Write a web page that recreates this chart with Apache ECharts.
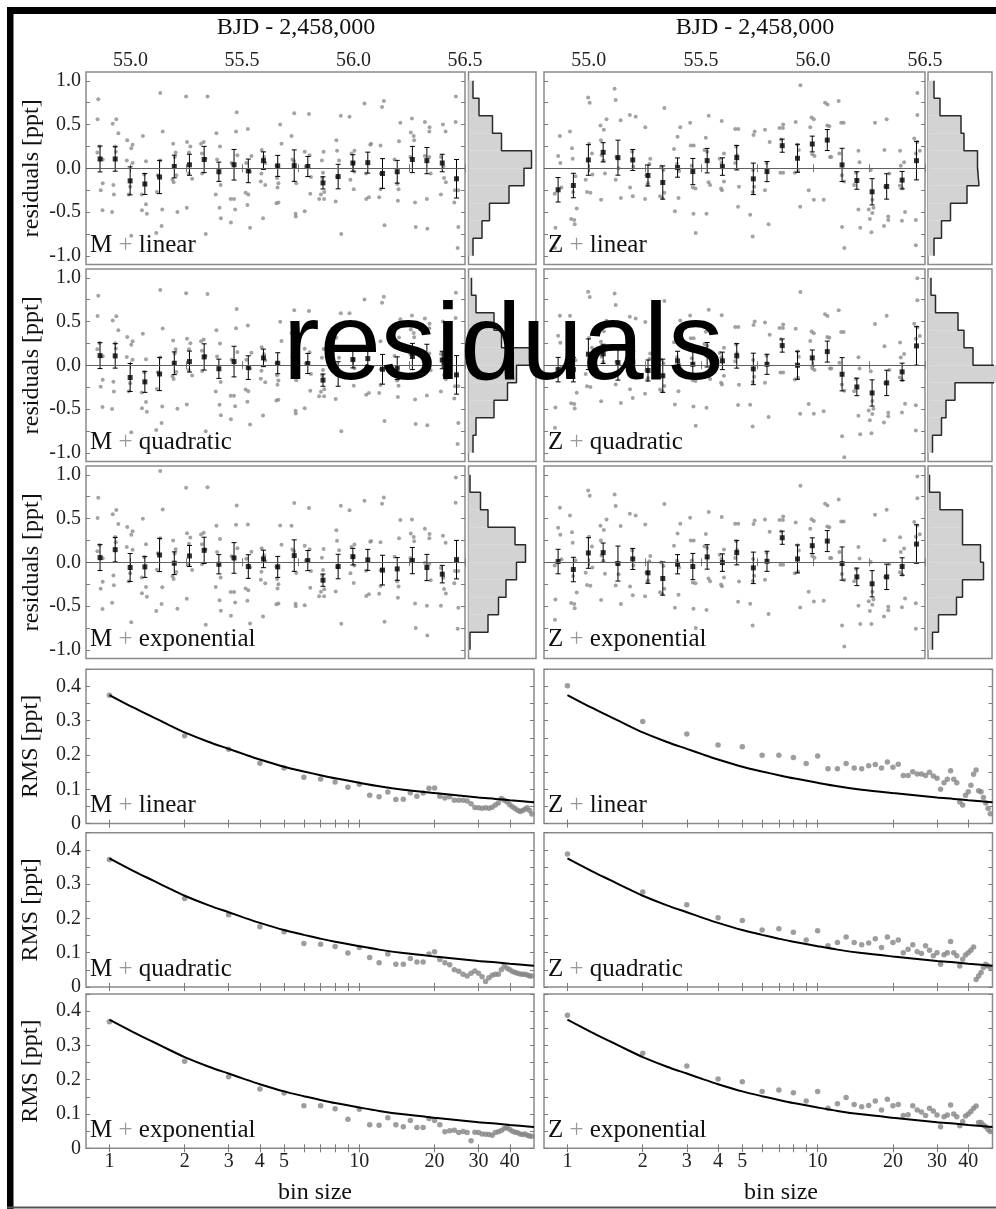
<!DOCTYPE html>
<html>
<head>
<meta charset="UTF-8">
<title>residuals</title>
<script src="https://cdn.jsdelivr.net/npm/echarts@6.0.0/dist/echarts.min.js"></script>
<style>html,body{margin:0;padding:0;background:#fff;}</style>
</head>
<body>
<div id="main" style="width:996px;height:1209px;"></div>
<script>
// ---- data ----
// bin centres (BJD - 2,458,000), same for both columns
var binTime = [54.863, 54.931, 54.998, 55.064, 55.130, 55.196, 55.264, 55.330, 55.396, 55.464, 55.528, 55.596, 55.660,
  55.734, 55.795, 55.863, 55.931, 55.997, 56.064, 56.130, 56.196, 56.264, 56.329, 56.398, 56.462];

// binned residuals [ppt]
var mLinMean = [0.106, 0.106, -0.144, -0.18, -0.10, 0.02, 0.04, 0.10, -0.04, 0.04, -0.03, 0.087, 0.027, 0.03, 0.02, -0.167, -0.095, 0.06, 0.064, -0.06, -0.04, 0.10, 0.087, 0.06, -0.12];
var mQuadMean = [0.11, 0.107, -0.14, -0.19, -0.10, 0.023, 0.042, 0.095, -0.04, 0.042, -0.027, 0.084, 0.023, 0.03, 0.02, -0.17, -0.10, 0.065, 0.076, -0.046, -0.034, 0.10, 0.09, 0.06, -0.11];
var mExpMean = [0.053, 0.144, -0.06, -0.053, 0.083, -0.011, 0.072, 0.136, -0.023, 0.049, -0.049, 0.038, -0.053, 0.076, 0.019, -0.205, -0.049, 0.064, 0.027, -0.09, -0.076, 0.019, -0.06, -0.136, 0.03];
var mErr = [0.148, 0.14, 0.16, 0.12, 0.19, 0.13, 0.12, 0.15, 0.11, 0.175, 0.135, 0.10, 0.12, 0.18, 0.115, 0.07, 0.14, 0.095, 0.12, 0.17, 0.13, 0.15, 0.15, 0.10, 0.22];
var zLinMean = [-0.246, -0.197, 0.095, 0.182, 0.121, 0.095, -0.083, -0.163, 0.008, -0.038, 0.087, 0.019, 0.121, -0.121, -0.038, 0.258, 0.114, 0.277, 0.322, 0.038, -0.14, -0.269, -0.208, -0.136, 0.087];
var zQuadMean = [-0.05, -0.05, 0.126, 0.13, 0.03, 0.04, -0.06, -0.12, 0.05, 0.011, 0.12, 0.05, 0.107, -0.042, 0.011, 0.225, 0.0, 0.084, 0.156, -0.103, -0.248, -0.317, -0.202, -0.076, 0.221];
var zExpMean = [0.008, -0.083, 0.106, 0.11, -0.015, 0.038, -0.121, -0.186, -0.023, -0.049, 0.061, -0.004, 0.11, -0.064, 0.011, 0.28, 0.038, 0.189, 0.242, -0.015, -0.167, -0.246, -0.167, -0.049, 0.208];
var zErr = [0.14, 0.14, 0.175, 0.11, 0.2, 0.12, 0.12, 0.19, 0.11, 0.15, 0.14, 0.10, 0.14, 0.18, 0.115, 0.075, 0.16, 0.09, 0.12, 0.19, 0.10, 0.15, 0.145, 0.10, 0.22];

// unbinned residuals, grouped per bin, [time, ppt] (M + linear and Z + linear fits)
var mRaw = [
  [[54.855,0.79],[54.852,0.56],[54.860,0.25],[54.851,0.18],[54.875,0.10],[54.866,-0.25],[54.875,-0.17],[54.874,-0.48]],
  [[54.920,0.51],[54.936,0.56],[54.945,0.40],[54.931,0.25],[54.934,0.19],[54.923,-0.19],[54.925,-0.30],[54.917,-0.50]],
  [[54.985,0.32],[55.009,0.27],[55.003,0.23],[54.983,0.09],[55.009,0.06],[54.998,-0.21],[54.992,-0.30],[55.003,-0.77]],
  [[55.055,0.37],[55.069,0.08],[55.061,-0.07],[55.050,-0.30],[55.051,-0.48],[55.069,-0.41],[55.073,-0.52]],
  [[55.133,0.86],[55.144,0.42],[55.133,0.09],[55.122,-0.08],[55.118,-0.27],[55.142,-0.47],[55.139,-0.66],[55.115,-0.74]],
  [[55.191,0.28],[55.202,0.18],[55.198,0.13],[55.188,-0.13],[55.205,-0.08],[55.193,-0.16],[55.210,-0.50]],
  [[55.249,0.82],[55.253,0.30],[55.268,0.25],[55.262,0.18],[55.261,-0.06],[55.276,-0.12],[55.252,-0.45]],
  [[55.345,0.82],[55.316,0.28],[55.328,0.30],[55.320,0.17],[55.336,0.11],[55.321,-0.06],[55.337,-0.75]],
  [[55.385,0.40],[55.401,0.25],[55.388,0.10],[55.404,-0.19],[55.382,-0.30],[55.399,-0.45],[55.405,-0.57]],
  [[55.476,0.64],[55.473,0.42],[55.479,0.15],[55.453,0.06],[55.449,-0.35],[55.464,-0.35],[55.469,-0.47],[55.450,-0.62]],
  [[55.526,0.45],[55.542,0.14],[55.519,0.06],[55.536,-0.04],[55.516,-0.28],[55.528,-0.30],[55.524,-0.42],[55.536,-0.68]],
  [[55.588,0.21],[55.599,0.13],[55.604,0.06],[55.587,-0.06],[55.604,-0.19],[55.584,-0.15],[55.594,-0.57]],
  [[55.671,0.50],[55.677,0.28],[55.654,0.03],[55.657,-0.11],[55.663,-0.17],[55.659,-0.22],[55.663,-0.39],[55.654,-0.40]],
  [[55.734,0.63],[55.722,0.37],[55.733,0.08],[55.726,0.10],[55.743,-0.17],[55.740,-0.52],[55.741,-0.55]],
  [[55.800,0.62],[55.781,0.19],[55.803,0.15],[55.786,0.02],[55.809,-0.10],[55.806,-0.29],[55.781,-0.49]],
  [[55.858,0.09],[55.863,-0.05],[55.866,0.19],[55.860,-0.11],[55.854,-0.30],[55.846,-0.35],[55.868,-0.35],[55.869,-0.27]],
  [[55.943,0.60],[55.923,0.32],[55.926,0.20],[55.935,0.09],[55.926,-0.10],[55.920,-0.38],[55.945,-0.75]],
  [[55.982,0.59],[55.991,0.17],[56.004,0.20],[56.000,0.06],[56.004,-0.04],[55.986,-0.13],[56.001,-0.24]],
  [[56.049,0.74],[56.075,0.27],[56.079,0.28],[56.056,-0.06],[56.057,-0.35],[56.069,-0.33]],
  [[56.136,0.77],[56.128,0.70],[56.121,0.26],[56.122,-0.06],[56.121,-0.24],[56.115,-0.33],[56.139,-0.65]],
  [[56.210,0.52],[56.204,0.31],[56.184,0.10],[56.196,-0.18],[56.202,-0.24],[56.199,-0.37]],
  [[56.262,0.57],[56.257,0.41],[56.270,0.37],[56.272,0.32],[56.255,0.13],[56.276,-0.39],[56.279,-0.67]],
  [[56.320,0.53],[56.341,0.47],[56.340,0.42],[56.320,0.14],[56.340,0.13],[56.346,-0.06],[56.329,-0.35],[56.331,-0.69]],
  [[56.401,0.50],[56.413,0.42],[56.392,0.13],[56.403,0.02],[56.406,-0.11],[56.414,-0.16],[56.392,-0.30]],
  [[56.459,0.82],[56.458,0.53],[56.470,-0.25],[56.455,-0.25],[56.452,-0.39],[56.470,-0.67],[56.467,-0.91]]
];
var zRaw = [
  [[54.871,0.37],[54.863,0.14],[54.873,0.06],[54.848,-0.29],[54.878,-0.22],[54.851,-0.68],[54.849,-0.91]],
  [[54.916,0.42],[54.925,0.23],[54.928,0.11],[54.940,-0.09],[54.930,-0.27],[54.946,-0.46],[54.921,-0.58],[54.935,-0.59],[54.937,-0.64]],
  [[54.997,0.81],[55.004,0.75],[55.001,0.28],[55.014,0.17],[55.016,-0.07],[54.986,-0.13],[54.992,-0.27],[55.007,-0.28]],
  [[55.052,0.49],[55.067,0.44],[55.079,0.56],[55.054,0.32],[55.057,0.15],[55.065,0.09],[55.072,-0.06],[55.055,-0.36]],
  [[55.115,0.91],[55.120,0.78],[55.142,0.55],[55.123,0.13],[55.133,0.00],[55.120,-0.13],[55.143,-0.34]],
  [[55.183,0.61],[55.209,0.59],[55.193,0.19],[55.199,0.02],[55.184,-0.22],[55.196,-0.32]],
  [[55.252,0.47],[55.274,0.11],[55.270,0.05],[55.257,-0.08],[55.264,-0.17],[55.261,-0.19],[55.251,-0.35]],
  [[55.337,0.69],[55.322,0.02],[55.333,-0.02],[55.318,-0.32],[55.328,-0.34],[55.337,-0.28]],
  [[55.380,0.22],[55.396,0.36],[55.408,0.47],[55.393,0.05],[55.403,-0.03],[55.400,-0.34],[55.384,-0.49]],
  [[55.452,0.52],[55.455,0.26],[55.468,0.26],[55.459,0.03],[55.464,-0.22],[55.476,-0.23],[55.467,-0.52],[55.477,-0.74]],
  [[55.535,0.60],[55.522,0.35],[55.516,0.21],[55.528,0.19],[55.534,-0.16],[55.541,-0.19],[55.525,-0.52]],
  [[55.593,0.54],[55.584,0.11],[55.603,0.17],[55.592,0.06],[55.603,-0.15],[55.594,-0.25],[55.590,-0.23]],
  [[55.653,0.45],[55.667,0.45],[55.657,0.25],[55.661,0.15],[55.653,0.06],[55.670,-0.21],[55.666,-0.44]],
  [[55.740,0.42],[55.735,0.38],[55.733,-0.02],[55.738,-0.21],[55.732,-0.27],[55.720,-0.53],[55.731,-0.78]],
  [[55.786,0.44],[55.807,0.30],[55.793,0.06],[55.786,-0.25],[55.802,-0.64]],
  [[55.851,0.46],[55.867,0.50],[55.866,0.46],[55.858,0.33],[55.867,-0.05],[55.855,-0.05]],
  [[55.923,0.53],[55.931,0.27],[55.937,0.21],[55.919,-0.05],[55.934,-0.03],[55.943,-0.44],[55.944,0.95]],
  [[55.994,0.58],[56.004,0.56],[55.988,0.47],[55.997,0.16],[56.007,0.14],[55.981,-0.25],[56.004,-0.36]],
  [[56.054,0.75],[56.065,0.73],[56.064,0.49],[56.073,0.48],[56.076,0.13],[56.082,0.13],[56.048,-0.36]],
  [[56.115,0.77],[56.126,0.52],[56.137,0.52],[56.118,0.17],[56.129,-0.08],[56.140,-0.15],[56.130,-0.67],[56.140,-0.91]],
  [[56.203,0.20],[56.192,-0.05],[56.208,0.07],[56.184,-0.19],[56.203,-0.47],[56.211,-0.68]],
  [[56.277,0.52],[56.258,-0.02],[56.265,-0.36],[56.249,-0.47],[56.254,-0.58],[56.265,-0.51],[56.261,-0.73],[56.270,-0.45]],
  [[56.329,0.56],[56.319,0.21],[56.341,-0.06],[56.322,-0.21],[56.336,-0.55],[56.336,-0.59],[56.317,-0.66]],
  [[56.389,0.20],[56.407,0.07],[56.392,0.03],[56.388,-0.20],[56.399,-0.23],[56.411,-0.50],[56.397,-0.60]],
  [[56.466,0.86],[56.466,0.61],[56.452,0.34],[56.466,0.30],[56.477,0.20],[56.459,0.17],[56.459,-0.59],[56.459,-0.88]]
];

// residual histograms: bin edges (top to bottom) and counts
var histEdges = [1.0, 0.8, 0.6, 0.4, 0.2, 0.0, -0.2, -0.4, -0.6, -0.8, -1.0];
var histMLin = [3, 7, 16, 22, 42, 37, 27, 14, 9, 3];
var histMQuad = [2, 5, 17, 22, 42, 32, 26, 17, 5, 3];
var histMExp = [1, 8, 13, 31, 38, 32, 25, 20, 13, 1];
var histZLin = [4, 8, 22, 24, 33, 34, 26, 15, 9, 4];
var histZQuad = [2, 5, 20, 24, 30, 55, 18, 12, 9, 3];
var histZExp = [1, 8, 23, 23, 35, 37, 23, 19, 7, 3];

// RMS versus bin size
var binSize = [1, 2, 3, 4, 5, 6, 7, 8, 9, 10, 11, 12, 13, 14, 15, 16, 17, 18, 19, 20, 21, 22, 23, 24, 25,
  26, 27, 28, 29, 30, 31, 32, 33, 34, 35, 36, 37, 38, 39, 40, 41, 42, 43, 44, 45, 46, 47, 48, 49];
var rmsMLin = [0.374, 0.256, 0.217, 0.176, 0.162, 0.135, 0.130, 0.121, 0.106, 0.115, 0.083, 0.078, 0.092, 0.070, 0.071, 0.090, 0.080, 0.089, 0.103, 0.104,
  0.080, 0.075, 0.078, 0.068, 0.068, 0.068, 0.066, 0.058, 0.047, 0.046, 0.045, 0.046, 0.045, 0.048, 0.054, 0.060, 0.073, 0.068, 0.063, 0.055,
  0.049, 0.044, 0.039, 0.035, 0.038, 0.042, 0.046, 0.038, 0.028];
var rmsMQuad = [0.372, 0.258, 0.211, 0.176, 0.161, 0.127, 0.125, 0.118, 0.099, 0.115, 0.086, 0.071, 0.096, 0.066, 0.066, 0.083, 0.073, 0.073, 0.096, 0.103,
  0.080, 0.071, 0.065, 0.050, 0.046, 0.037, 0.032, 0.040, 0.047, 0.040, 0.030, 0.016, 0.027, 0.034, 0.037, 0.037, 0.050, 0.061, 0.055, 0.050,
  0.045, 0.042, 0.040, 0.038, 0.037, 0.037, 0.035, 0.032, 0.032];
var rmsMExp = [0.369, 0.254, 0.209, 0.173, 0.161, 0.124, 0.124, 0.115, 0.085, 0.114, 0.069, 0.067, 0.089, 0.069, 0.063, 0.081, 0.061, 0.061, 0.087, 0.081,
  0.069, 0.048, 0.051, 0.053, 0.046, 0.049, 0.046, 0.022, 0.047, 0.046, 0.042, 0.041, 0.040, 0.038, 0.046, 0.048, 0.052, 0.058, 0.060, 0.055,
  0.050, 0.047, 0.045, 0.042, 0.040, 0.042, 0.038, 0.036, 0.035];
var rmsZLin = [0.402, 0.298, 0.261, 0.229, 0.224, 0.199, 0.199, 0.193, 0.175, 0.197, 0.160, 0.160, 0.175, 0.162, 0.160, 0.169, 0.172, 0.162, 0.180, 0.164,
  0.173, 0.140, 0.140, 0.151, 0.145, 0.145, 0.140, 0.150, 0.139, 0.132, 0.100, 0.119, 0.129, 0.154, 0.129, 0.119, 0.063, 0.054, 0.083, 0.093,
  0.112, 0.144, 0.156, 0.096, 0.093, 0.076, 0.060, 0.044, 0.029];
var rmsZQuad = [0.388, 0.277, 0.240, 0.202, 0.194, 0.166, 0.170, 0.160, 0.137, 0.164, 0.120, 0.130, 0.146, 0.130, 0.123, 0.128, 0.141, 0.115, 0.146, 0.130,
  0.137, 0.100, 0.110, 0.123, 0.103, 0.098, 0.120, 0.107, 0.091, 0.100, 0.066, 0.094, 0.100, 0.133, 0.100, 0.091, 0.061, 0.081, 0.093, 0.100,
  0.107, 0.117, 0.022, 0.032, 0.042, 0.057, 0.066, 0.061, 0.057];
var rmsZExp = [0.388, 0.277, 0.240, 0.202, 0.194, 0.166, 0.170, 0.162, 0.138, 0.166, 0.117, 0.130, 0.148, 0.128, 0.121, 0.125, 0.138, 0.112, 0.143, 0.124,
  0.128, 0.096, 0.098, 0.124, 0.112, 0.106, 0.096, 0.117, 0.109, 0.097, 0.063, 0.092, 0.097, 0.126, 0.100, 0.092, 0.066, 0.078, 0.094, 0.100,
  0.107, 0.117, 0.123, 0.075, 0.075, 0.068, 0.063, 0.055, 0.049];
// expected white-noise curve, read at a set of bin sizes
var curveN = [1, 1.25, 1.5, 1.75, 2, 2.5, 3, 3.5, 4, 5, 6, 7, 8, 10, 12, 15, 20, 25, 30, 35, 40, 45, 50];
var curveV = [0.375, 0.338, 0.310, 0.286, 0.266, 0.238, 0.218, 0.201, 0.187, 0.166, 0.152, 0.141, 0.132, 0.119, 0.109, 0.099, 0.089, 0.082, 0.076, 0.072, 0.068, 0.065, 0.062];

// ticks and labels
var timeTicks = [55.0, 55.25, 55.5, 55.75, 56.0, 56.25, 56.5];
var timeLabels = [55.0, 55.5, 56.0, 56.5];
var resTicks = [-1.0, -0.75, -0.5, -0.25, 0, 0.25, 0.5, 0.75, 1.0];
var resLabels = [-1.0, -0.5, 0, 0.5, 1.0];
var binTicks = [1, 2, 3, 4, 5, 6, 7, 8, 9, 10, 20, 30, 40];
var binLabels = [1, 2, 3, 4, 5, 10, 20, 30, 40];
var rmsTicks = [0, 0.05, 0.1, 0.15, 0.2, 0.25, 0.3, 0.35, 0.4, 0.45];
var rmsLabels = [0, 0.1, 0.2, 0.3, 0.4];

// ---- layout ----
var resTop = [72, 269, 466], resH = 192.5;
var rmsTop = [669.3, 832.7, 994], rmsH = 154.3;
var colResLeft = [86, 544], colResW = [379, 381];
var colHistLeft = [468.5, 928], colHistW = [67.5, 64];
var colRmsLeft = [86, 544], colRmsW = [448, 448.5];
var histUnit = 1.5; // px per count

var serif = 'Liberation Serif';
var labelFont = {fontFamily: serif, fontSize: 20, color: '#222'};

var myChart = echarts.init(document.getElementById('main'), null, {renderer: 'canvas'});

var grids = [], xAxes = [], yAxes = [], series = [], graphics = [];

function addGrid(l, t, w, h) {
  grids.push({left: l, top: t, width: w, height: h, show: true, borderColor: '#8a8a8a', borderWidth: 1.5, backgroundColor: 'transparent'});
  return grids.length - 1;
}
function tick(vals) {
  if (!vals) return {show: false};
  return {show: true, inside: true, length: 4, customValues: vals, lineStyle: {color: '#7a7a7a', width: 1}};
}
function label(vals, fmt, margin) {
  if (!vals) return {show: false};
  return Object.assign({show: true, customValues: vals, formatter: fmt, margin: margin}, labelFont);
}
function axes(gi, o) {
  var common = {gridIndex: gi, axisLine: {show: false}, splitLine: {show: false}};
  xAxes.push(Object.assign({}, common, {type: o.xType, min: o.xr[0], max: o.xr[1], position: 'bottom',
    axisTick: tick(o.xt), axisLabel: label(o.bottomLab, o.xFmt, 3)}));
  var xi = xAxes.length - 1;
  xAxes.push(Object.assign({}, common, {type: o.xType, min: o.xr[0], max: o.xr[1], position: 'top',
    axisTick: tick(o.xt), axisLabel: label(o.topLab, o.xFmt, 1)}));
  yAxes.push(Object.assign({}, common, {type: 'value', min: o.yr[0], max: o.yr[1], position: 'left',
    axisTick: tick(o.yt), axisLabel: label(o.leftLab, o.yFmt, 5)}));
  var yi = yAxes.length - 1;
  yAxes.push(Object.assign({}, common, {type: 'value', min: o.yr[0], max: o.yr[1], position: 'right',
    axisTick: tick(o.yt), axisLabel: {show: false}}));
  return {x: xi, y: yi};
}
function fmt1(v) { return Number(v).toFixed(1); }
function fmtRms(v) { return v === 0 ? '0' : Number(v).toFixed(1); }
function fmtInt(v) { return String(Math.round(v)); }

function renderErr(params, api) {
  var t = api.value(0), m = api.value(1), e = api.value(2);
  var a = api.coord([t, m + e]), b = api.coord([t, m - e]);
  var w = 2.5, st = {stroke: '#000', lineWidth: 1};
  return {type: 'group', children: [
    {type: 'line', shape: {x1: a[0], y1: a[1], x2: b[0], y2: b[1]}, style: st},
    {type: 'line', shape: {x1: a[0] - w, y1: a[1], x2: a[0] + w, y2: a[1]}, style: st},
    {type: 'line', shape: {x1: b[0] - w, y1: b[1], x2: b[0] + w, y2: b[1]}, style: st}
  ]};
}
function renderHist(params, api) {
  var hi = api.value(0), lo = api.value(1), c = api.value(2);
  var p0 = api.coord([0, hi]), p1 = api.coord([c, lo]);
  return {type: 'rect', shape: {x: p0[0], y: p0[1], width: p1[0] - p0[0], height: p1[1] - p0[1]},
    style: {fill: '#d3d3d3'}};
}

function panelText(x, y, name, kind) {
  graphics.push({type: 'text', x: x, y: y, z: 50, style: {
    text: name + ' {p|+} ' + kind,
    font: '25px "' + serif + '"', fill: '#111',
    rich: {p: {fill: '#999', font: '25px "' + serif + '"'}},
    align: 'left', verticalAlign: 'middle', textAlign: 'left', textVerticalAlign: 'middle'}});
}
function freeText(x, y, txt, size, rot) {
  graphics.push({type: 'text', x: x, y: y, rotation: rot || 0, z: 50, style: {
    text: txt, font: size + 'px "' + serif + '"', fill: '#111',
    align: 'center', verticalAlign: 'middle', textAlign: 'center', textVerticalAlign: 'middle'}});
}

var resPanels = [
  {col: 0, row: 0, name: 'M', kind: 'linear', mean: mLinMean, base: mLinMean, err: mErr, raw: mRaw, hist: histMLin},
  {col: 0, row: 1, name: 'M', kind: 'quadratic', mean: mQuadMean, base: mLinMean, err: mErr, raw: mRaw, hist: histMQuad},
  {col: 0, row: 2, name: 'M', kind: 'exponential', mean: mExpMean, base: mLinMean, err: mErr, raw: mRaw, hist: histMExp},
  {col: 1, row: 0, name: 'Z', kind: 'linear', mean: zLinMean, base: zLinMean, err: zErr, raw: zRaw, hist: histZLin},
  {col: 1, row: 1, name: 'Z', kind: 'quadratic', mean: zQuadMean, base: zLinMean, err: zErr, raw: zRaw, hist: histZQuad},
  {col: 1, row: 2, name: 'Z', kind: 'exponential', mean: zExpMean, base: zLinMean, err: zErr, raw: zRaw, hist: histZExp}
];

resPanels.forEach(function (p) {
  var gi = addGrid(colResLeft[p.col], resTop[p.row], colResW[p.col], resH);
  var ax = axes(gi, {xType: 'value', xr: [54.8, 56.5], yr: [-1.1, 1.1], xt: timeTicks, yt: resTicks,
    topLab: p.row === 0 ? timeLabels : null, xFmt: fmt1,
    leftLab: p.col === 0 ? resLabels : null, yFmt: fmt1});
  // unbinned points, offset by the change in the binned mean for this model
  var raw = [];
  p.raw.forEach(function (pts, b) {
    pts.forEach(function (q) { raw.push([q[0], +(q[1] + p.mean[b] - p.base[b]).toFixed(3)]); });
  });
  series.push({type: 'scatter', xAxisIndex: ax.x, yAxisIndex: ax.y, data: raw, symbolSize: 4,
    itemStyle: {color: '#8c8c8c'}, silent: true, z: 2,
    markLine: {silent: true, symbol: 'none', label: {show: false}, animation: false,
      lineStyle: {color: '#606060', width: 1, type: 'solid'}, data: [{yAxis: 0}]}});
  series.push({type: 'custom', xAxisIndex: ax.x, yAxisIndex: ax.y, renderItem: renderErr, z: 3,
    data: p.mean.map(function (m, i) { return [binTime[i], m, p.err[i]]; })});
  series.push({type: 'scatter', xAxisIndex: ax.x, yAxisIndex: ax.y, symbol: 'rect', symbolSize: 5, z: 4,
    itemStyle: {color: '#000'}, data: p.mean.map(function (m, i) { return [binTime[i], m]; })});

  // histogram
  var hg = addGrid(colHistLeft[p.col], resTop[p.row], colHistW[p.col], resH);
  var hax = axes(hg, {xType: 'value', xr: [0, colHistW[p.col] / histUnit], yr: [-1.1, 1.1]});
  series.push({type: 'custom', xAxisIndex: hax.x, yAxisIndex: hax.y, renderItem: renderHist, clip: false, z: 2,
    encode: {x: 2, y: [0, 1]},
    data: p.hist.map(function (c, i) { return [histEdges[i], histEdges[i + 1], c]; })});
  var outline = [];
  p.hist.forEach(function (c, i) { outline.push([c, histEdges[i]]); outline.push([c, histEdges[i + 1]]); });
  series.push({type: 'line', xAxisIndex: hax.x, yAxisIndex: hax.y, data: outline, symbol: 'none', clip: false, z: 3,
    lineStyle: {color: '#2a2a2a', width: 1.5}});

  panelText(colResLeft[p.col] + 4, resTop[p.row] + resH - 19, p.name, p.kind);
});

var rmsPanels = [
  {col: 0, row: 0, name: 'M', kind: 'linear', data: rmsMLin},
  {col: 0, row: 1, name: 'M', kind: 'quadratic', data: rmsMQuad},
  {col: 0, row: 2, name: 'M', kind: 'exponential', data: rmsMExp},
  {col: 1, row: 0, name: 'Z', kind: 'linear', data: rmsZLin},
  {col: 1, row: 1, name: 'Z', kind: 'quadratic', data: rmsZQuad},
  {col: 1, row: 2, name: 'Z', kind: 'exponential', data: rmsZExp}
];
rmsPanels.forEach(function (p) {
  var gi = addGrid(colRmsLeft[p.col], rmsTop[p.row], colRmsW[p.col], rmsH);
  var ax = axes(gi, {xType: 'log', xr: [0.806, 50], yr: [0, 0.45], xt: binTicks, yt: rmsTicks,
    bottomLab: p.row === 2 ? binLabels : null, xFmt: fmtInt,
    leftLab: p.col === 0 ? rmsLabels : null, yFmt: fmtRms});
  series.push({type: 'scatter', xAxisIndex: ax.x, yAxisIndex: ax.y, symbolSize: 5.5, z: 2,
    itemStyle: {color: '#858585'}, data: p.data.map(function (v, i) { return [binSize[i], v]; })});
  series.push({type: 'line', xAxisIndex: ax.x, yAxisIndex: ax.y, symbol: 'none', smooth: 0.3, z: 3,
    lineStyle: {color: '#000', width: 2}, data: curveV.map(function (v, i) { return [curveN[i], v]; })});
  panelText(colRmsLeft[p.col] + 4, rmsTop[p.row] + rmsH - 18, p.name, p.kind);
});

// axis titles
freeText(296, 28, 'BJD - 2,458,000', 24);
freeText(755, 28, 'BJD - 2,458,000', 24);
resTop.forEach(function (t) { freeText(32, t + resH / 2, 'residuals [ppt]', 24, Math.PI / 2); });
rmsTop.forEach(function (t) { freeText(31, t + rmsH / 2, 'RMS [ppt]', 24, Math.PI / 2); });
freeText(315, 1193, 'bin size', 24);
freeText(781, 1193, 'bin size', 24);

// outer frame
graphics.push({type: 'rect', z: 60, shape: {x: 7, y: 7, width: 989, height: 7}, style: {fill: '#000'}});
graphics.push({type: 'rect', z: 60, shape: {x: 7, y: 7, width: 6.5, height: 1202}, style: {fill: '#000'}});
graphics.push({type: 'rect', z: 60, shape: {x: 7, y: 1206.5, width: 989, height: 2}, style: {fill: '#555'}});

myChart.setOption({
  backgroundColor: '#fff',
  animation: false,
  title: {text: 'residuals', left: 283, top: 294, padding: 0, z: 40,
    textStyle: {fontFamily: 'Liberation Sans', fontSize: 110, fontWeight: 'normal', color: '#000', lineHeight: 110}},
  grid: grids,
  xAxis: xAxes,
  yAxis: yAxes,
  series: series,
  graphic: graphics
});
</script>
</body>
</html>
